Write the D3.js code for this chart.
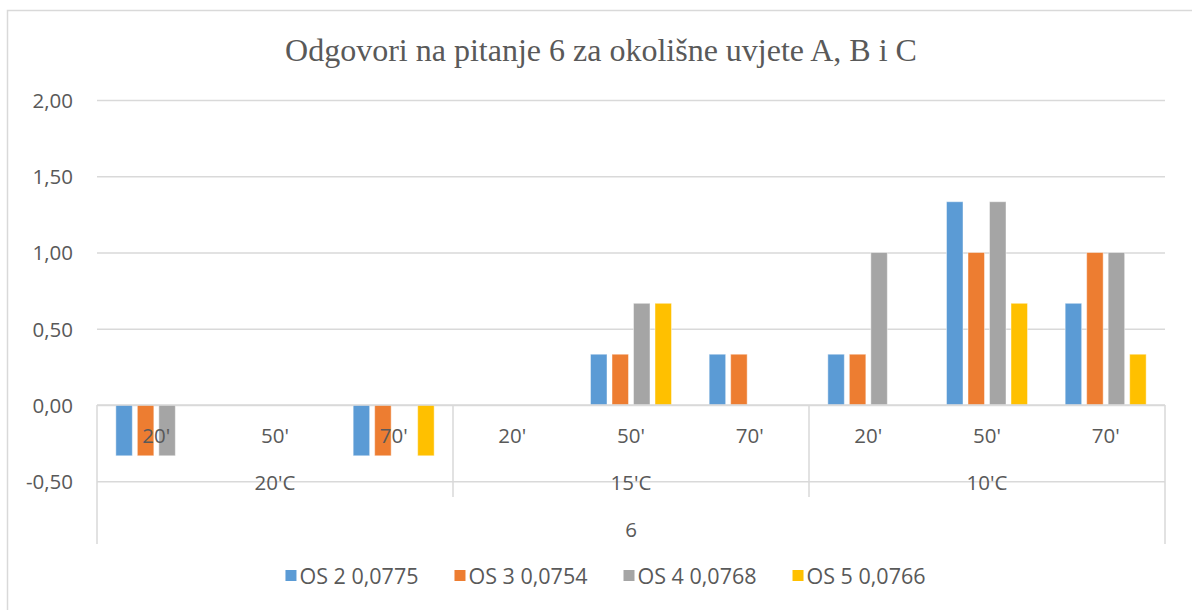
<!DOCTYPE html>
<html>
<head>
<meta charset="utf-8">
<script src="https://cdn.jsdelivr.net/npm/d3@7"></script>
<style>
  html, body { margin: 0; padding: 0; background: #fff; }
  svg { display: block; }
</style>
</head>
<body>
<svg id="chart" width="1192" height="610"></svg>
<script>
// Response data for question 6, grouped by duration within each temperature
const durations = ["20'", "50'", "70'", "20'", "50'", "70'", "20'", "50'", "70'"];
const temperatures = ["20'C", "15'C", "10'C"];
const question = ["6"];
const seriesNames = ["OS 2 0,0775", "OS 3 0,0754", "OS 4 0,0768", "OS 5 0,0766"];
const seriesColors = ["#5B9BD5", "#ED7D31", "#A5A5A5", "#FFC000"];
const os2 = [-0.333, 0, -0.333, 0, 0.333, 0.333, 0.333, 1.333, 0.667];
const os3 = [-0.333, 0, -0.333, 0, 0.333, 0.333, 0.333, 1.000, 1.000];
const os4 = [-0.333, 0, 0, 0, 0.667, 0, 1.000, 1.333, 1.000];
const os5 = [0, 0, -0.333, 0, 0.667, 0, 0, 0.667, 0.333];
const yTicks = [-0.5, 0, 0.5, 1.0, 1.5, 2.0];

const seriesValues = [os2, os3, os4, os5];
const svg = d3.select("#chart");
const textColor = "#595959";
const gridColor = "#D9D9D9";
const sans = "'Open Sans', 'Liberation Sans', sans-serif";
const labelSize = 20.5;

const plot = { left: 97, right: 1165, top: 100 };

// chart frame
svg.append("rect")
  .attr("x", 7.5).attr("y", 10.5)
  .attr("width", 1200).attr("height", 700)
  .attr("fill", "#fff").attr("stroke", gridColor).attr("stroke-width", 1.5);

// title
svg.append("text")
  .attr("x", 601).attr("y", 61)
  .attr("text-anchor", "middle")
  .attr("font-family", "'Liberation Serif', 'Times New Roman', serif")
  .attr("font-size", 32)
  .attr("fill", textColor)
  .text("Odgovori na pitanje 6 za okolišne uvjete A, B i C");

const y = d3.scaleLinear().domain([-0.5, 2.0]).range([481.25, 100]);

const idx = d3.range(durations.length);
const x0 = d3.scaleBand().domain(idx).range([plot.left, plot.right]).padding(0);
const x1 = d3.scaleBand().domain(d3.range(seriesNames.length))
  .range([0, x0.bandwidth()]).paddingInner(0.2326).paddingOuter(0.876);

// gridlines + y labels
const yAxis = d3.axisLeft(y).tickValues(yTicks)
  .tickSize(-(plot.right - plot.left))
  .tickPadding(24)
  .tickFormat(d => d3.format(".2f")(d).replace(".", ",").replace("\u2212", "-"));
const gy = svg.append("g").attr("transform", `translate(${plot.left},0)`).call(yAxis);
gy.select(".domain").remove();
gy.selectAll(".tick line").attr("stroke", gridColor).attr("stroke-width", 1.5);
gy.selectAll(".tick text")
  .attr("fill", textColor).attr("font-family", sans).attr("font-size", labelSize)
  .attr("dy", "0.36em");

// bars
const barData = [];
seriesValues.forEach((vals, s) => vals.forEach((v, i) => barData.push({ s, i, v })));
svg.append("g").selectAll("rect").data(barData.filter(d => d.v !== 0)).join("rect")
  .attr("x", d => x0(d.i) + x1(d.s))
  .attr("width", x1.bandwidth())
  .attr("y", d => Math.min(y(d.v), y(0)))
  .attr("height", d => Math.abs(y(d.v) - y(0)))
  .attr("fill", d => seriesColors[d.s])
  .attr("stroke", "#fff").attr("stroke-opacity", 0.45).attr("stroke-width", 1);

// zero line on top of bars
svg.append("line")
  .attr("x1", plot.left).attr("x2", plot.right)
  .attr("y1", y(0)).attr("y2", y(0))
  .attr("stroke", gridColor).attr("stroke-width", 1.5);

// multi-level category axis
const gx = svg.append("g").attr("font-family", sans).attr("fill", textColor).attr("font-size", labelSize);
gx.selectAll("text.dur").data(idx).join("text").attr("class", "dur")
  .attr("x", i => x0(i) + x0.bandwidth() / 2).attr("y", 443)
  .attr("text-anchor", "middle").text(i => durations[i]);

const groupX = d3.scaleBand().domain(d3.range(temperatures.length)).range([plot.left, plot.right]);
gx.selectAll("text.temp").data(d3.range(temperatures.length)).join("text").attr("class", "temp")
  .attr("x", g => groupX(g) + groupX.bandwidth() / 2).attr("y", 490)
  .attr("text-anchor", "middle").text(g => temperatures[g]);

gx.append("text").attr("x", (plot.left + plot.right) / 2).attr("y", 537)
  .attr("text-anchor", "middle").text(question[0]);

// separator lines
const seps = d3.range(temperatures.length + 1).map(g => g === temperatures.length ? plot.right : groupX(g));
svg.append("g").selectAll("line").data(seps).join("line")
  .attr("x1", d => d).attr("x2", d => d)
  .attr("y1", y(0))
  .attr("y2", (d, k) => (k === 0 || k === seps.length - 1) ? 544 : 497)
  .attr("stroke", gridColor).attr("stroke-width", 1.5);

// legend
const lg = svg.append("g");
const items = lg.selectAll("g").data(seriesNames).join("g");
items.append("rect").attr("width", 11).attr("height", 11).attr("y", -14)
  .attr("fill", (d, i) => seriesColors[i]);
items.append("text").attr("x", 14).attr("font-family", sans).attr("font-size", 21.5)
  .attr("fill", textColor).text(d => d);
let cx = 0;
const offsets = [];
items.each(function () {
  offsets.push(cx);
  const w = 14 + this.querySelector("text").getComputedTextLength();
  cx += w + 36;
});
const total = cx - 36;
items.attr("transform", (d, i) => `translate(${offsets[i]},0)`);
lg.attr("transform", `translate(${605.5 - total / 2},584)`);
</script>
</body>
</html>
